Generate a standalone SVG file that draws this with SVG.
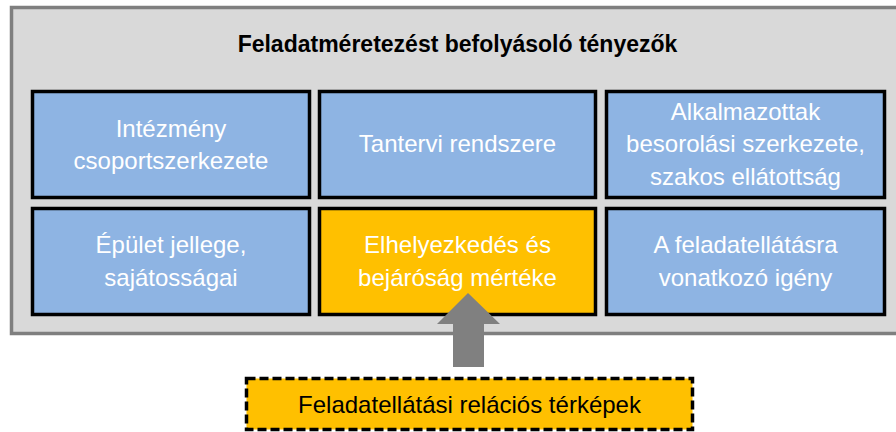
<svg xmlns="http://www.w3.org/2000/svg" width="896" height="432" viewBox="0 0 896 432">
<style>
.box{stroke:#000;stroke-width:3.5}
.blue{fill:#8eb4e3}
.orange{fill:#ffc000}
.t{font-family:"Liberation Sans",Arial,sans-serif;font-size:24px;fill:#fff;text-anchor:middle}
.title{font-family:"Liberation Sans",Arial,sans-serif;font-size:23px;font-weight:bold;fill:#000;text-anchor:middle}
.bt{font-family:"Liberation Sans",Arial,sans-serif;font-size:24px;fill:#000;text-anchor:middle}
</style>
<rect width="896" height="432" fill="#fff"/>
<g id="container">
<rect x="11.5" y="7.5" width="890" height="326" fill="#d9d9d9" stroke="#7f7f7f" stroke-width="3.5"/>
<text class="title" x="457.5" y="52">Feladatméretezést befolyásoló tényezők</text>
</g>
<g id="n1"><rect class="box blue" x="32.5" y="91.5" width="277" height="106"/>
<text class="t" x="171" y="137">Intézmény</text><text class="t" x="171" y="169">csoportszerkezete</text></g>
<g id="n2"><rect class="box blue" x="319.5" y="91.5" width="276" height="106"/>
<text class="t" x="457.5" y="152">Tantervi rendszere</text></g>
<g id="n3"><rect class="box blue" x="606.5" y="91.5" width="278" height="106"/>
<text class="t" x="745.5" y="120">Alkalmazottak</text><text class="t" x="745.5" y="152">besorolási szerkezete,</text><text class="t" x="745.5" y="185">szakos ellátottság</text></g>
<g id="n4"><rect class="box blue" x="32.5" y="208.5" width="277" height="106"/>
<text class="t" x="171" y="253">Épület jellege,</text><text class="t" x="171" y="286">sajátosságai</text></g>
<g id="n5"><rect class="box orange" x="319.5" y="208.5" width="276" height="106"/>
<text class="t" x="457.5" y="253">Elhelyezkedés és</text><text class="t" x="457.5" y="286">bejáróság mértéke</text></g>
<g id="n6"><rect class="box blue" x="606.5" y="208.5" width="278" height="106"/>
<text class="t" x="745.5" y="253">A feladatellátásra</text><text class="t" x="745.5" y="286">vonatkozó igény</text></g>
<g id="connectors">
<polygon points="468,293 500,324 484,324 484,367 453,367 453,324 437,324" fill="#808080"/>
</g>
<g id="n7"><rect x="246.5" y="378.5" width="446" height="51" fill="#ffc000" stroke="#000" stroke-width="3.5" stroke-dasharray="9,4"/>
<text class="bt" x="469.5" y="413">Feladatellátási relációs térképek</text></g>
</svg>
